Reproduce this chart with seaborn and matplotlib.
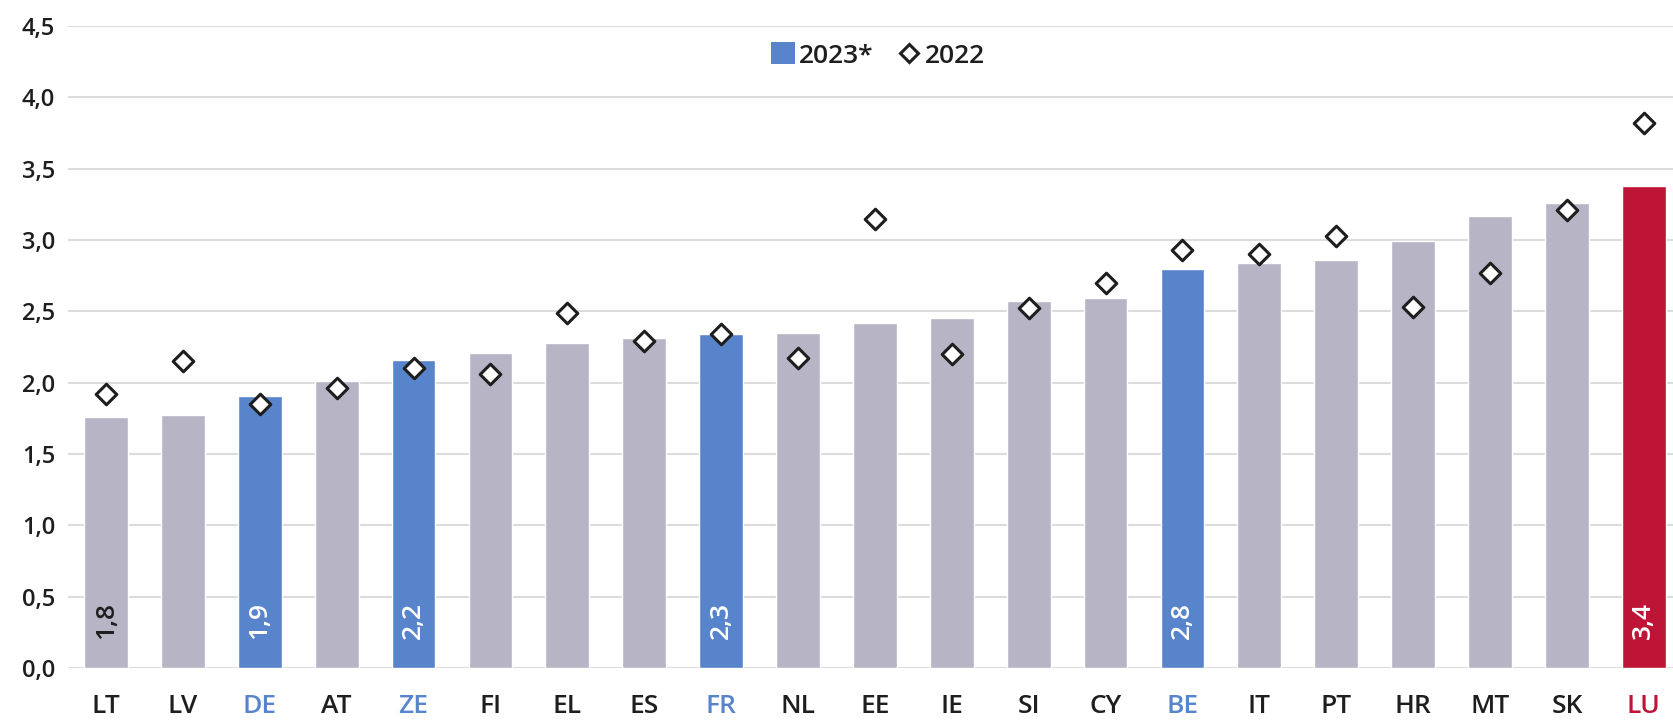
import numpy as np
import pandas as pd
import seaborn as sns
import matplotlib.pyplot as plt
import matplotlib.ticker as mtick
from matplotlib.lines import Line2D
from matplotlib.patches import Patch

countries = ["LT", "LV", "DE", "AT", "ZE", "FI", "EL", "ES", "FR", "NL", "EE",
             "IE", "SI", "CY", "BE", "IT", "PT", "HR", "MT", "SK", "LU"]
v2023 = [1.76, 1.77, 1.91, 2.01, 2.16, 2.21, 2.28, 2.31, 2.34, 2.35, 2.42,
         2.45, 2.57, 2.59, 2.80, 2.84, 2.86, 2.99, 3.17, 3.26, 3.38]
v2022 = [1.92, 2.15, 1.85, 1.96, 2.10, 2.06, 2.49, 2.29, 2.34, 2.17, 3.15,
         2.20, 2.52, 2.70, 2.93, 2.90, 3.03, 2.53, 2.77, 3.21, 3.82]
highlight_blue = ["DE", "ZE", "FR", "BE"]
highlight_red = ["LU"]
labelled = ["LT", "DE", "ZE", "FR", "BE", "LU"]

grey = "#b7b4c6"
blue = "#5884cb"
red = "#be1435"
dark = "#1e1e1e"

sns.set_style("white")
plt.rcParams["font.family"] = ["Open Sans", "DejaVu Sans"]
plt.rcParams["font.weight"] = "semibold"

df = pd.DataFrame({"country": countries, "v2023": v2023, "v2022": v2022})


def bar_color(c):
    if c in highlight_blue:
        return blue
    if c in highlight_red:
        return red
    return grey


palette = {c: bar_color(c) for c in countries}

fig = plt.figure(figsize=(16.73, 7.2), dpi=100)
ax = fig.add_axes([0.0404, 0.0722, 0.9596, 0.8917])

sns.barplot(data=df, x="country", y="v2023", hue="country", palette=palette,
            legend=False, width=0.57, saturation=1, ax=ax, zorder=2)
sns.scatterplot(x=df.index, y=df["v2022"], marker="D", s=110,
                color="white", edgecolor=dark, linewidth=2.2, ax=ax, zorder=3)

# value labels inside selected bars
for i, c in enumerate(countries):
    if c in labelled:
        txt = f"{v2023[i]:.1f}".replace(".", ",")
        col = dark if bar_color(c) == grey else "white"
        ax.text(i, 0.2, txt, rotation=90, ha="center", va="bottom",
                fontsize=19, color=col, zorder=4)

ax.set_ylim(0, 4.5)
ax.set_xlim(-0.5, 20.38)
ax.set_yticks(np.arange(0, 4.51, 0.5))
ax.yaxis.set_major_formatter(mtick.FuncFormatter(lambda v, p: f"{v:.1f}".replace(".", ",")))
ax.grid(axis="y", color="#dcdcdc", linewidth=1.5, zorder=0)
ax.set_axisbelow(True)
for s in ax.spines.values():
    s.set_visible(False)
ax.set_xlabel("")
ax.set_ylabel("")
ax.tick_params(axis="y", length=0, labelsize=17, labelcolor=dark, pad=9)
ax.tick_params(axis="x", length=0, labelsize=19, pad=19)
for lab in ax.get_xticklabels():
    t = lab.get_text()
    if t in highlight_blue:
        lab.set_color(blue)
    elif t in highlight_red:
        lab.set_color(red)
    else:
        lab.set_color(dark)

handles = [Patch(facecolor=blue, edgecolor="none"),
           Line2D([], [], marker="D", linestyle="none", markersize=9.5,
                  markerfacecolor="white", markeredgecolor=dark,
                  markeredgewidth=2.2)]
leg = ax.legend(handles, ["2023*", "2022"], loc="center",
                bbox_to_anchor=(0.505, 0.954), ncol=2, frameon=False,
                fontsize=19, handlelength=0.9, handleheight=0.9,
                handletextpad=0.15, columnspacing=0.9)
for t in leg.get_texts():
    t.set_color(dark)

fig.savefig("out.png", dpi=100)
